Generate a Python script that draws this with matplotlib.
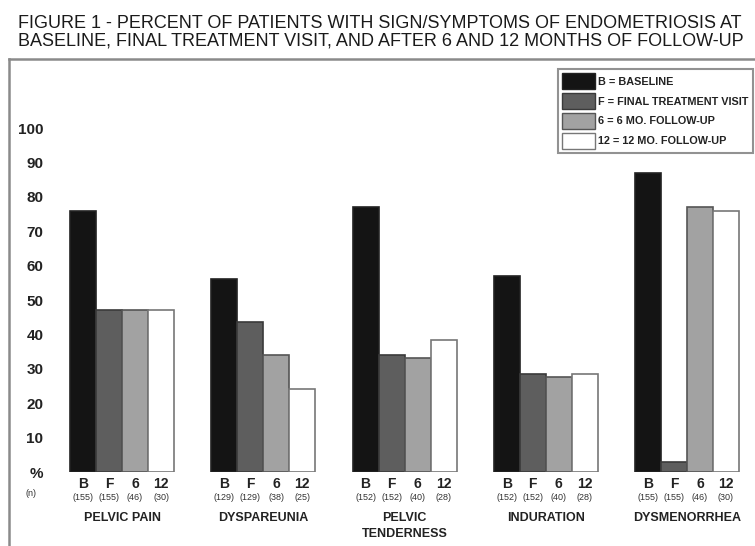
import numpy as np
import matplotlib
matplotlib.use("Agg")
import matplotlib.pyplot as plt
from matplotlib.patches import Patch
from matplotlib.lines import Line2D

plt.rcParams['font.family'] = ['Liberation Sans', 'DejaVu Sans']

# data
categories = ["PELVIC PAIN", "DYSPAREUNIA", "PELVIC\nTENDERNESS", "INDURATION", "DYSMENORRHEA"]
visits = ["B", "F", "6", "12"]
baseline = [76, 56, 77, 57, 87]
final_visit = [47, 43.5, 34, 28.5, 3]
followup_6 = [47, 34, 33, 27.5, 77]
followup_12 = [47, 24, 38.5, 28.5, 76]
n_counts = [
    [155, 155, 46, 30],
    [129, 129, 38, 25],
    [152, 152, 40, 28],
    [152, 152, 40, 28],
    [155, 155, 46, 30],
]
legend_labels = ["B = BASELINE", "F = FINAL TREATMENT VISIT",
                 "6 = 6 MO. FOLLOW-UP", "12 = 12 MO. FOLLOW-UP"]
yticks = [0, 10, 20, 30, 40, 50, 60, 70, 80, 90, 100]
ytick_labels = ["%", "10", "20", "30", "40", "50", "60", "70", "80", "90", "100"]

colors = ["#141414", "#5e5e5e", "#a2a2a2", "#ffffff"]
edges = ["#222222", "#3a3a3a", "#555555", "#777777"]

W, H = 755, 546
fig = plt.figure(figsize=(W / 100, H / 100), dpi=100)

# axes placed in pixel terms
left, right, bottom, top = 60, 740, 472, 128
ax = fig.add_axes([left / W, 1 - bottom / H, (right - left) / W, (bottom - top) / H])

spacing = 141.25
bw = 26 / spacing
x = np.arange(len(categories))
series = [baseline, final_visit, followup_6, followup_12]
for i, vals in enumerate(series):
    ax.bar(x + (i - 1.5) * bw, vals, width=bw, color=colors[i],
           edgecolor=edges[i], linewidth=1.2)

ax.set_xlim((left - 122) / spacing, (right - 122) / spacing)
ax.set_ylim(0, 100)
for s in ax.spines.values():
    s.set_visible(False)
ax.set_xticks([])
ax.set_yticks(yticks)
ax.set_yticklabels(ytick_labels, fontsize=11, fontweight="bold", color="#222222")
ax.tick_params(axis="y", length=0, pad=12)

px = 0.72  # pixels -> points
for g in range(len(categories)):
    for i, v in enumerate(visits):
        xi = x[g] + (i - 1.5) * bw
        ax.annotate(v, xy=(xi, 0), xycoords=("data", "axes fraction"),
                    xytext=(0, -12 * px), textcoords="offset points",
                    ha="center", va="center", fontsize=10, fontweight="bold",
                    color="#222222")
        ax.annotate("(%d)" % n_counts[g][i], xy=(xi, 0), xycoords=("data", "axes fraction"),
                    xytext=(0, -25 * px), textcoords="offset points",
                    ha="center", va="center", fontsize=6.5, color="#333333")
    ax.annotate(categories[g], xy=(x[g], 0), xycoords=("data", "axes fraction"),
                xytext=(0, -40 * px), textcoords="offset points",
                ha="center", va="top", fontsize=9, fontweight="bold",
                color="#222222", linespacing=1.4)

ax.annotate("(n)", xy=(0, 0), xycoords="axes fraction",
            xytext=(-29 * px, -22 * px), textcoords="offset points",
            ha="center", va="center", fontsize=6.5, color="#333333")

# title
fig.text(18 / W, 1 - 23 / H, "FIGURE 1 - PERCENT OF PATIENTS WITH SIGN/SYMPTOMS OF ENDOMETRIOSIS AT",
         fontsize=13, ha="left", va="center", color="#1a1a1a")
fig.text(18 / W, 1 - 41 / H, "BASELINE, FINAL TREATMENT VISIT, AND AFTER 6 AND 12 MONTHS OF FOLLOW-UP",
         fontsize=13, ha="left", va="center", color="#1a1a1a")

# surrounding frame
fig.add_artist(Line2D([9 / W, 1], [1 - 59 / H, 1 - 59 / H], color="#8a8a8a", lw=1.8))
fig.add_artist(Line2D([9 / W, 9 / W], [0, 1 - 59 / H], color="#8a8a8a", lw=1.8))

# legend
handles = [Patch(facecolor=colors[i], edgecolor=edges[i], linewidth=1) for i in range(4)]
leg = fig.legend(handles, legend_labels, loc="upper right",
                 bbox_to_anchor=(753 / W, 1 - 69 / H), frameon=True, fancybox=False,
                 prop={"size": 7.8, "weight": "bold"}, handlelength=3.0, handleheight=1.9,
                 labelspacing=0.35, handletextpad=0.35, borderpad=0.4, borderaxespad=0)
leg.get_frame().set_edgecolor("#777777")
leg.get_frame().set_linewidth(1.5)
for t in leg.get_texts():
    t.set_color("#222222")

fig.savefig("out.png", dpi=100)
